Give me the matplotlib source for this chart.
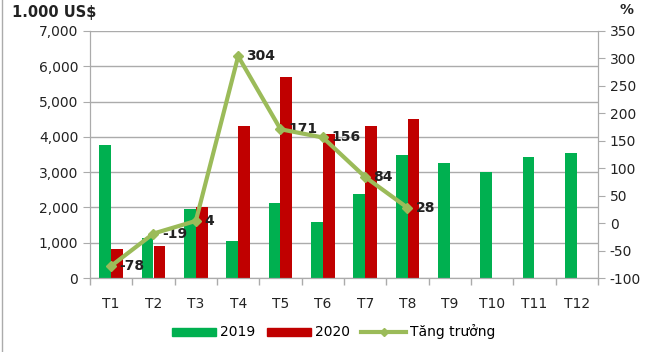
import numpy as np
import matplotlib.pyplot as plt
from matplotlib.lines import Line2D
from matplotlib.patches import Patch

plt.rcParams['axes.unicode_minus'] = False

months = ['T1', 'T2', 'T3', 'T4', 'T5', 'T6', 'T7', 'T8', 'T9', 'T10', 'T11', 'T12']
val_2019 = [3770, 1130, 1950, 1050, 2120, 1590, 2370, 3500, 3250, 3000, 3430, 3540]
val_2020 = [830, 900, 2000, 4300, 5700, 4080, 4300, 4500]
growth = [-78, -19, 4, 304, 171, 156, 84, 28]

green = '#00B050'
red = '#C00000'
line_col = '#9BBB59'
grid_col = '#ABABAB'

fig = plt.figure(figsize=(6.67, 3.52), dpi=100)
ax = fig.add_axes([90/667, 1-278/352, 508/667, 247/352])
ax2 = ax.twinx()

x = np.arange(len(months))
w = 0.28
ax.bar(x - w/2, val_2019, w, color=green, zorder=2)
ax.bar(np.arange(len(val_2020)) + w/2, val_2020, w, color=red, zorder=2)

ax.set_xlim(-0.5, 11.5)
ax.set_ylim(0, 7000)
ax.set_yticks(range(0, 7001, 1000))
ax.set_yticklabels([f'{v:,}' for v in range(0, 7001, 1000)])
ax.set_xticks(x)
ax.set_xticklabels(months)
ax.set_xticks(np.arange(-0.5, 12, 1), minor=True)
ax.tick_params(axis='x', which='major', length=0, pad=14)
ax.tick_params(axis='x', which='minor', length=5, color=grid_col, width=1)
ax.tick_params(axis='y', length=5, color=grid_col, labelsize=10, labelcolor='#222222')
ax.tick_params(axis='x', labelsize=10, labelcolor='#222222')
ax.yaxis.grid(True, color=grid_col, linewidth=1, zorder=0)
ax.set_axisbelow(True)
ax.spines['top'].set_visible(False)
ax2.spines['top'].set_visible(False)
for s in ['left', 'bottom', 'right']:
    ax.spines[s].set_color(grid_col)
    ax2.spines[s].set_color(grid_col)

ax2.plot(np.arange(len(growth)), growth, color=line_col, linewidth=3,
         marker='D', markersize=5, zorder=5)
ax2.set_ylim(-100, 350)
ax2.set_yticks(range(-100, 351, 50))
ax2.tick_params(axis='y', length=5, color=grid_col, labelsize=10, labelcolor='#222222')
for i, g in enumerate(growth):
    ax2.annotate(str(g), (i, g), xytext=(6, 0), textcoords='offset points',
                 ha='left', va='center', fontsize=10, fontweight='bold', color='#222222')

fig.text(12/667, 1-12/352, '1.000 US$', fontsize=10.5, fontweight='bold',
         color='#222222', ha='left', va='center')
fig.text(626/667, 1-10/352, '%', fontsize=10, fontweight='bold',
         color='#222222', ha='center', va='center')

# left border of the original frame
fig.add_artist(Line2D([2/667, 2/667], [0, 1], color=grid_col, linewidth=1))

handles = [Patch(color=green, label='2019'), Patch(color=red, label='2020'),
           Line2D([], [], color=line_col, linewidth=3, marker='D', markersize=4,
                  label='Tăng trưởng')]
fig.legend(handles=handles, loc='center', bbox_to_anchor=(0.5, 1-332/352), ncol=3,
           frameon=False, fontsize=10, handlelength=3.2, handleheight=0.5,
           columnspacing=0.8, handletextpad=0.3)

fig.savefig('out.png', dpi=100)
